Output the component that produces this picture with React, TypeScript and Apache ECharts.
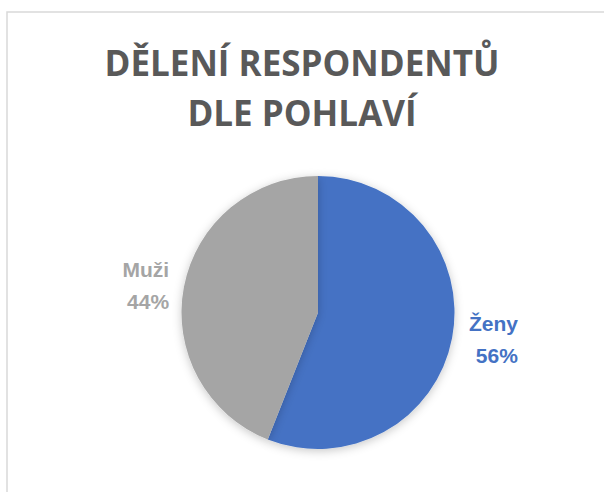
import React, { useEffect, useRef } from "react";
import * as echarts from "echarts";

const titleLines = ["DĚLENÍ RESPONDENTŮ", "DLE POHLAVÍ"];
const categories = ["Ženy", "Muži"];
const values = [56, 44];

const sliceColors = ["#4472C4", "#A5A5A5"];

export default function App() {
  const ref = useRef<HTMLDivElement>(null);

  useEffect(() => {
    if (!ref.current) return;
    const chart = echarts.init(ref.current, undefined, { renderer: "svg" });
    const option: any = {
      animation: false,
      backgroundColor: "#ffffff",
      title: {
        text: titleLines.join("\n"),
        left: "center",
        top: 32,
        textStyle: {
          fontFamily: "Open Sans",
          fontWeight: "bold",
          fontSize: 35,
          lineHeight: 50,
          color: "#595959",
        },
      },
      graphic: [
        {
          type: "rect",
          shape: { x: 7, y: 12, width: 640, height: 520 },
          style: { fill: "none", stroke: "#D9D9D9", lineWidth: 1.5 },
          silent: true,
        },
      ],
      series: [
        {
          type: "pie",
          center: [318, 312.5],
          radius: 136.5,
          startAngle: 90,
          clockwise: true,
          avoidLabelOverlap: false,
          itemStyle: {
            borderWidth: 0,
            shadowBlur: 10,
            shadowColor: "rgba(0,0,0,0.22)",
            shadowOffsetY: 2,
          },
          label: {
            show: true,
            position: "outside",
            distanceToLabelLine: 5,
            formatter: (p: any) => `{a|${p.name}}\n{a|${Math.round(p.percent)}%}`,
            rich: {
              a: {
                fontFamily: "Liberation Sans",
                fontWeight: "bold",
                fontSize: 21,
                lineHeight: 32,
                width: 51,
                align: "right",
              },
            },
          },
          labelLine: { show: false, length: 10, length2: 0 },
          data: categories.map((name, i) => ({
            name,
            value: values[i],
            itemStyle: { color: sliceColors[i] },
            label: { color: sliceColors[i] },
          })),
        },
      ],
    };
    chart.setOption(option);
    return () => chart.dispose();
  }, []);

  return (
    <div
      ref={ref}
      style={{ position: "fixed", left: 0, top: 0, width: 604, height: 492 }}
    />
  );
}
